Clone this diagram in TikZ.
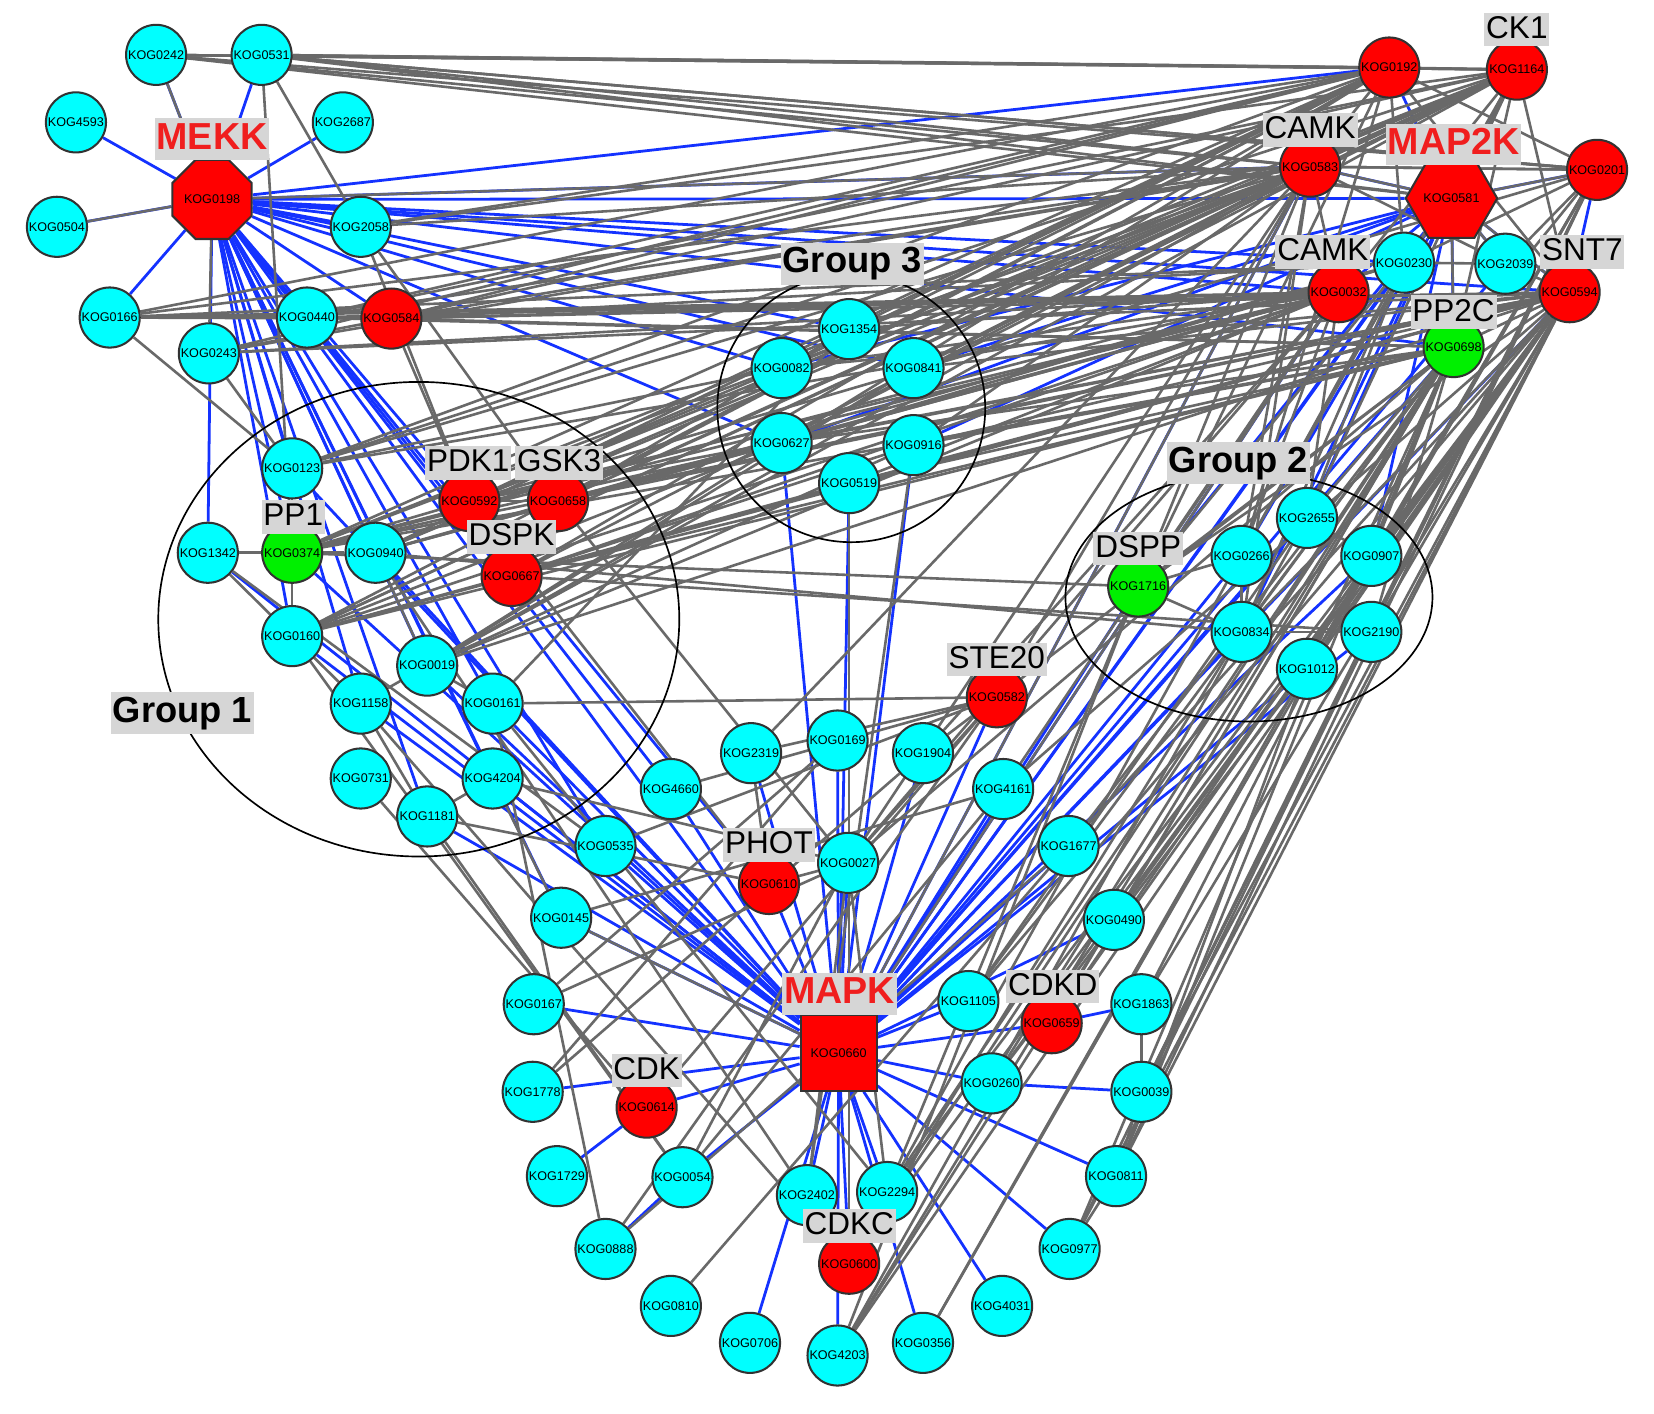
\documentclass[tikz,border=0pt]{standalone}
\usepackage{fontspec}
\setmainfont{Liberation Sans}
\usetikzlibrary{shapes.geometric}
\pgfdeclarelayer{bg}
\pgfsetlayers{bg,main}
\definecolor{ncyan}{RGB}{0,255,255}
\definecolor{nred}{RGB}{255,0,0}
\definecolor{ngreen}{RGB}{0,240,0}
\definecolor{eblue}{RGB}{20,50,255}
\definecolor{egray}{RGB}{105,105,105}
\definecolor{lblbg}{RGB}{214,214,214}
\definecolor{lblred}{RGB}{240,30,30}
\definecolor{nborder}{RGB}{50,50,50}
\tikzset{
 kog/.style={circle, draw=nborder, line width=1.1pt, minimum size=1.14cm, inner sep=0pt, font=\fontsize{6.8}{7}\selectfont},
 cy/.style={kog, fill=ncyan},
 rd/.style={kog, fill=nred},
 gn/.style={kog, fill=ngreen},
 be/.style={draw=eblue, line width=1.5pt},
 ge/.style={draw=egray, line width=1.4pt},
 lbl/.style={fill=lblbg, inner xsep=1pt, inner ysep=0.3pt, text height=13.5pt, text depth=4pt, font=\fontsize{17}{19}\selectfont},
 hlbl/.style={fill=lblbg, inner xsep=1pt, inner ysep=0.3pt, text height=16.5pt, text depth=5.5pt, font=\fontsize{20.3}{23}\selectfont\bfseries, text=lblred},
 glbl/.style={fill=lblbg, inner xsep=1pt, inner ysep=0.3pt, text height=16pt, text depth=6pt, font=\fontsize{19.6}{22}\selectfont\bfseries},
 grp/.style={draw=black, line width=0.9pt},
}
\begin{document}
\begin{tikzpicture}[x=0.02cm, y=-0.02cm]
\useasboundingbox (0,0) rectangle (1568,1340);
\begin{pgfonlayer}{bg}
\fill[white] (0,0) rectangle (1568,1340);
\end{pgfonlayer}
% group outlines
\draw[grp] (397,587) ellipse [x radius=4.94cm, y radius=4.5cm];
\draw[grp] (1184,566) ellipse [x radius=3.48cm, y radius=2.36cm];
\draw[grp] (807,387) circle [radius=2.54cm];
% nodes
\foreach \n/\px/\py in {0242/148/52, 0531/248/52, 4593/72/116, 2687/325/116, 0504/54/215, 2058/342/215,
 0166/104/301, 0440/291/301, 0243/198/335, 0123/277/444, 1342/197/524, 0940/356/524, 0160/277/603,
 0019/405/631, 1158/342/667, 0161/467/667, 0731/342/738, 4204/467/738, 1181/405/774,
 1354/805/312, 0082/741/349, 0841/866/349, 0627/741/420, 0916/866/422, 0519/805/458,
 0230/1331/249, 2039/1427/250, 2655/1239/491, 0266/1177/527, 0907/1300/527, 0834/1177/599,
 2190/1300/599, 1012/1239/634, 2319/712/714, 0169/794/702, 1904/875/714, 4660/636/748,
 4161/951/748, 0535/574/802, 0027/804/818, 1677/1013/802, 0145/532/870, 0490/1056/872,
 0167/506/952, 1105/918/949, 1863/1082/952, 1778/505/1035, 0260/940/1027, 0039/1082/1035,
 1729/528/1115, 0054/647/1116, 0811/1058/1115, 2402/765/1133, 2294/841/1130, 0888/574/1184,
 0977/1014/1184, 0810/636/1238, 4031/950/1238, 0706/711/1273, 4203/794/1285, 0356/875/1273}
 \node[cy] (k\n) at (\px,\py) {KOG\n};
\foreach \n/\px/\py in {0584/371/302, 0592/445/475, 0658/529/475, 0667/485/546, 0192/1317/64,
 1164/1438/66, 0583/1242/158, 0201/1514/161, 0032/1269/277, 0594/1488/277, 0582/945/661,
 0610/729/838, 0659/997/970, 0614/613/1050, 0600/805/1198}
 \node[rd] (k\n) at (\px,\py) {KOG\n};
\foreach \n/\px/\py in {0374/277/524, 1716/1079/556, 0698/1378/329}
 \node[gn] (k\n) at (\px,\py) {KOG\n};
\node[regular polygon, regular polygon sides=8, draw=nborder, fill=nred, line width=1.1pt,
 minimum size=1.6cm, inner sep=0pt, font=\fontsize{6.8}{7}\selectfont] (k0198) at (201,189) {KOG0198};
\node[regular polygon, regular polygon sides=6, draw=nborder, fill=nred, line width=1.1pt,
 minimum size=1.42cm, inner sep=0pt, font=\fontsize{6.8}{7}\selectfont] (k0581) at (1376,188) {KOG0581};
\node[rectangle, draw=nborder, fill=nred, line width=1.1pt, minimum size=1.44cm, inner sep=0pt,
 font=\fontsize{6.8}{7}\selectfont] (k0660) at (795,998) {KOG0660};
% edges
\begin{pgfonlayer}{bg}
\foreach \b in {0242,0531,4593,2687,0504,0166,1342,0123,0374,0940,0160,0019,1158,0161,4204,1181,0592,0667,4660,0535,0145,0660,0627,0082,1354,0841,0583,0581,0192,0032,0230,0698,0594,2058,0440,0584,0610}
 \draw[be] (k0198) -- (k\b);
\foreach \b in {0167,1778,0614,0054,0706,4203,2402,2294,0600,0356,4031,0977,0811,0260,0659,1105,0490,0145,0535,4660,2319,0169,0027,0610,1904,4161,0582,1677,0374,0160,1158,0940,0019,0161,4204,1181,0627,0519,0916,1716,0266,0834,2655,1012,0907,2190,0581,0698,0594,0230,2039,0032,0583,1342,0123}
 \draw[be] (k0660) -- (k\b);
\foreach \b in {0583,0201,0230,2039,0594,0698,1164,0192,0032,0841,0916,1716,0266,2655,0907,0834,0082,0627}
 \draw[be] (k0581) -- (k\b);
\foreach \a/\b in {1729/0614, 0888/0054, 1863/0659, 0039/0260, 0201/0594}
 \draw[be] (k\a) -- (k\b);
% gray hubs
\foreach \b in {0242,0531,0166,0440,2058,0123,0374,0592,0658,0667,0940,1354,0082,0627,0266,1716,0584,0243,0160,1164,0583,0230,0594}
 \draw[ge] (k0192) -- (k\b);
\foreach \b in {0242,0531,0583,0581,2058,0584,0440,0123,0374,0592,0658,0940,0841,0627,2655,0266,0594,0019,0160,0032,0698}
 \draw[ge] (k1164) -- (k\b);
\foreach \b in {0242,0531,0166,0440,0584,0243,2058,0123,0374,0592,0658,0667,0940,0160,0019,1354,0082,0627,0841,0916,1716,0266,0834,2319,0027,0582,0581,0032,0201,0198,0660}
 \draw[ge] (k0583) -- (k\b);
\foreach \b in {0166,0440,0584,0243,0123,0374,0940,0592,0658,0667,0160,1354,0082,0627,0519,1716,0266,2655,0027,1904,4161,0660,0019}
 \draw[ge] (k0032) -- (k\b);
\foreach \b in {0166,0584,0243,0374,0592,0658,0667,0160,0019,0082,0627,0916,0519,0841,1716,0834,1012,2190,0907,4161,1677,0490,1863,0039,0811,0977,4203,2294,0600,0260,0659,1105,0581,0698}
 \draw[ge] (k0594) -- (k\b);
\foreach \b in {0440,0584,0374,0667,0160,0627,0916,0519,1716,0834,2655,1012,2190,0907,0027,0582,1677,0490,0659,0260,2294,4203,0600,1105,0811,0977,0581}
 \draw[ge] (k0698) -- (k\b);
\foreach \b in {0242,0531,0583,0192,0581,0230,2039,0374,1012,0907,2190,0039,0811,0356,0698}
 \draw[ge] (k0201) -- (k\b);
\foreach \b in {0166,0584,0374,0940,0627,1716,2655,0834,0266,0581}
 \draw[ge] (k0230) -- (k\b);
\foreach \b in {0583,0581,0594,0230}
 \draw[ge] (k2039) -- (k\b);
\foreach \a/\b in {0242/0198, 0531/2058, 0531/0374, 0504/0198, 0198/0243, 0166/0440, 0166/0584, 0166/0123,
 0243/0584, 0243/0123, 0440/0584, 0584/0592, 2058/0658, 2058/0592, 0242/0581, 0531/0581, 0242/1164, 0531/0201,
 1342/0374, 0374/0940, 0374/0160, 1342/0160, 0160/1158, 1158/0019, 0019/0161, 1158/1181, 4204/1181, 0123/0374,
 0940/0019, 0592/0658, 0592/0667, 0123/0082, 0374/0627, 0940/0627, 0592/0082, 0658/1354, 0667/0916, 0160/0627,
 0019/0916, 0667/2190, 0940/0834, 0374/1716, 0160/0519, 0019/0841, 0940/2402, 0160/0054, 1158/0600, 0161/0888,
 4204/0145, 1181/0054, 0658/0027, 0592/0610, 0731/0614, 1342/0535, 0161/2294, 2319/0582, 1904/0582, 0027/0582,
 0027/0610, 0610/2319, 4660/0582, 0535/0582, 0145/4161, 0167/0027, 1778/1904, 0054/0027, 2402/0027, 2294/0027,
 0614/0582, 0888/0582, 0810/1677, 4203/0490, 0167/0169, 1778/0169, 0145/0660, 1863/0039, 0039/0811, 0811/0977,
 1863/0907, 0039/2190, 0811/1012, 0977/2190, 0356/0907, 4203/2655, 2294/0266, 0600/0834, 1105/2655, 0260/1012,
 0659/0907, 4203/1716, 2402/0916, 0600/0519, 2294/1716, 1716/0266, 0834/2190, 0266/0834, 2655/0907, 1716/0834,
 0054/4161, 0888/1677, 0019/0627, 0161/0582, 4204/0027, 1181/0610, 0161/1354}
 \draw[ge] (k\a) -- (k\b);
\end{pgfonlayer}
% labels
\node[hlbl] (lmekk) at (201,132) {MEKK};
\node[hlbl] (lmap2k) at (1378,137) {MAP2K};
\node[hlbl] (lmapk) at (796,942) {MAPK};
\node[lbl] (lck1) at (1438,28) {CK1};
\node[lbl] (lcamka) at (1242,123) {CAMK};
\node[lbl] (lcamkb) at (1254,239) {CAMK};
\node[lbl] (lsnt7) at (1500,239) {SNT7};
\node[lbl] (lpp2c) at (1378,296) {PP2C};
\node[lbl] (lpdk1) at (444,439) {PDK1};
\node[lbl] (lgsk3) at (530,439) {GSK3};
\node[lbl] (lpp1) at (278,490) {PP1};
\node[lbl] (ldspk) at (485,509) {DSPK};
\node[lbl] (ldspp) at (1079,520) {DSPP};
\node[lbl] (lste20) at (945,625) {STE20};
\node[lbl] (lphot) at (729,801) {PHOT};
\node[lbl] (lcdkd) at (998,935) {CDKD};
\node[lbl] (lcdk) at (613,1015) {CDK};
\node[lbl] (lcdkc) at (805,1162) {CDKC};
\node[glbl] (lg3) at (808,250) {Group 3};
\node[glbl] (lg1) at (173,676) {Group 1};
\node[glbl] (lg2) at (1174,439) {Group 2};
\end{tikzpicture}
\end{document}
